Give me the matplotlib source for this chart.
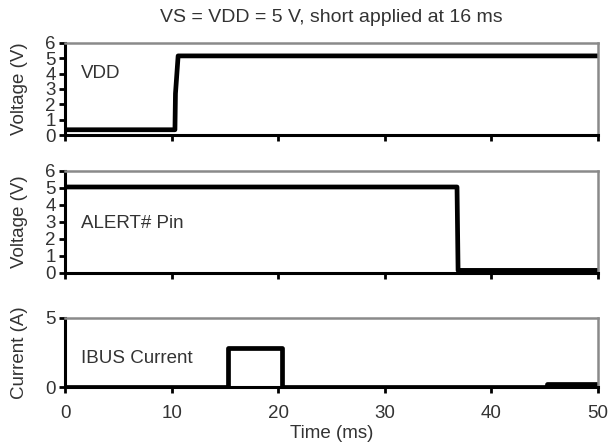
import matplotlib.pyplot as plt

plt.rcParams['font.family'] = ['Liberation Sans', 'DejaVu Sans']

# breakpoints (ms) and levels
vdd_t = [0, 10.3, 10.35, 10.6, 50]
vdd_v = [0.35, 0.35, 2.7, 5.15, 5.15]

alert_t = [0, 36.8, 36.9, 50]
alert_v = [5.05, 5.05, 0.15, 0.15]

ibus_t = [0, 15.3, 15.3, 20.4, 20.4, 45.3, 45.3, 50]
ibus_a = [0, 0, 2.8, 2.8, 0, 0, 0.2, 0.2]

x_ticks = [0, 10, 20, 30, 40, 50]
title = 'VS = VDD = 5 V, short applied at 16 ms'

txt = '#333333'
fs = 13.5

fig = plt.figure(figsize=(6.16, 4.46), dpi=100)
ax1 = fig.add_axes([0.106, 0.697, 0.864, 0.207])
ax2 = fig.add_axes([0.106, 0.388, 0.864, 0.229])
ax3 = fig.add_axes([0.106, 0.132, 0.864, 0.155])

def style(ax, yticks):
    ax.set_xlim(0, 50)
    ax.set_xticks(x_ticks)
    ax.set_yticks(yticks)
    for s in ['left', 'bottom']:
        ax.spines[s].set_linewidth(2.2)
        ax.spines[s].set_color('black')
    for s in ['top', 'right']:
        ax.spines[s].set_linewidth(1.8)
        ax.spines[s].set_color('#8a8a8a')
    ax.tick_params(direction='out', length=4, width=2, color='black',
                   labelsize=fs, labelcolor=txt, pad=3)
    ax.tick_params(axis='x', pad=9)
    ax.yaxis.set_label_coords(-0.071, 0.5)

ax1.plot(vdd_t, vdd_v, color='black', lw=3.4)
style(ax1, range(0, 7))
ax1.set_ylim(0, 6)
ax1.set_xticklabels([])
ax1.set_ylabel('Voltage (V)', fontsize=fs, color=txt)
ax1.text(1.5, 4.0, 'VDD', fontsize=fs, color=txt, va='center')
ax1.set_title(title, fontsize=14, color=txt, pad=15)

ax2.plot(alert_t, alert_v, color='black', lw=3.4)
style(ax2, range(0, 7))
ax2.set_ylim(0, 6)
ax2.set_xticklabels([])
ax2.set_ylabel('Voltage (V)', fontsize=fs, color=txt)
ax2.text(1.5, 2.9, 'ALERT# Pin', fontsize=fs, color=txt, va='center')

ax3.plot(ibus_t, ibus_a, color='black', lw=3.4)
style(ax3, [0, 5])
ax3.set_ylim(0, 5)
ax3.set_ylabel('Current (A)', fontsize=fs, color=txt)
ax3.set_xlabel('Time (ms)', fontsize=fs, color=txt, labelpad=2)
ax3.text(1.5, 2.1, 'IBUS Current', fontsize=fs, color=txt, va='center')

fig.savefig('out.png', dpi=100)
